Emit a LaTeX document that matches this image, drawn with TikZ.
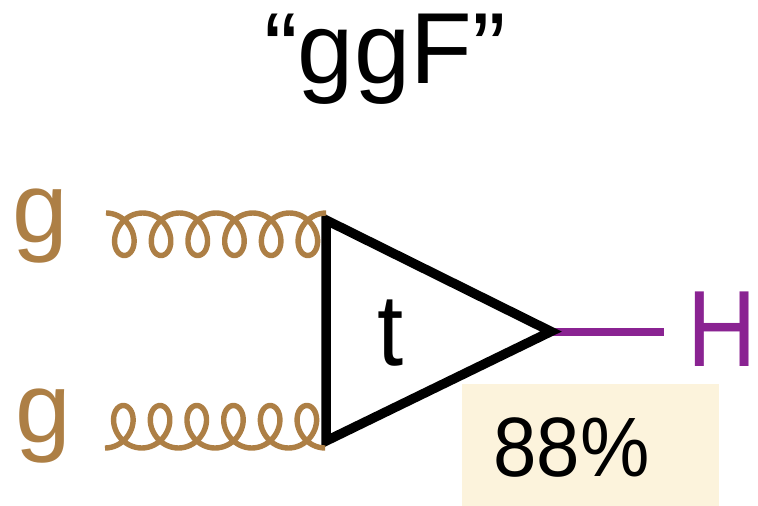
\documentclass[tikz,border=0pt]{standalone}
\usepackage{fontspec}
\usepackage{graphicx}
\setmainfont{Liberation Sans}
\definecolor{gluon}{HTML}{AD7F45}
\definecolor{higgs}{HTML}{8A2392}
\definecolor{boxc}{HTML}{FCF3DC}
\newcommand{\tallText}[2][1.08]{\scalebox{1}[#1]{#2}}
\tikzset{
 lbl/.style={inner sep=0pt,anchor=base,font=\fontsize{#1}{#1}\selectfont},
 gl/.style={draw=gluon,line width=5.4pt,line join=round},
 tri/.style={draw=black,line width=9.5pt,line join=miter}
}
\begin{document}
\begin{tikzpicture}[x=1pt,y=-1pt]
\useasboundingbox (0,0) rectangle (758,506);
\fill[boxc] (462,384) rectangle (719,506);
\node[lbl=101] (title) at (385,83) {“ggF”};
\node[lbl=100,text=gluon] (g1) at (40,242) {g};
\node[lbl=100,text=gluon] (g2) at (43.5,442) {g};
\node[lbl=96,text=higgs] (H) at (722,366) {\tallText[1.13]{H}};
\node[lbl=94] (t) at (391,365) {\tallText{t}};
\node[lbl=78] (pct) at (571.5,476) {\tallText{88\%}};
\coordinate (a) at (326,220);
\coordinate (b) at (326,441);
\coordinate (c) at (551,331.5);
\coordinate (g1s) at (106,213);
\coordinate (g2s) at (105,448);
\coordinate (hs) at (664,331.5);
\draw[higgs,line width=8pt] (c) -- (hs);
\draw[tri] (a) -- (c) -- (b) -- cycle;
\draw[gl,shift={(g1s)}] plot[domain=0:2160,samples=289,smooth] ({0.10194*\x+18*sin(\x)},{21.25*(1-cos(\x))});
\draw[gl,shift={(g2s)}] plot[domain=0:2160,samples=289,smooth] ({0.10194*\x+18*sin(\x)},{-21.25*(1-cos(\x))});
\end{tikzpicture}
\end{document}
